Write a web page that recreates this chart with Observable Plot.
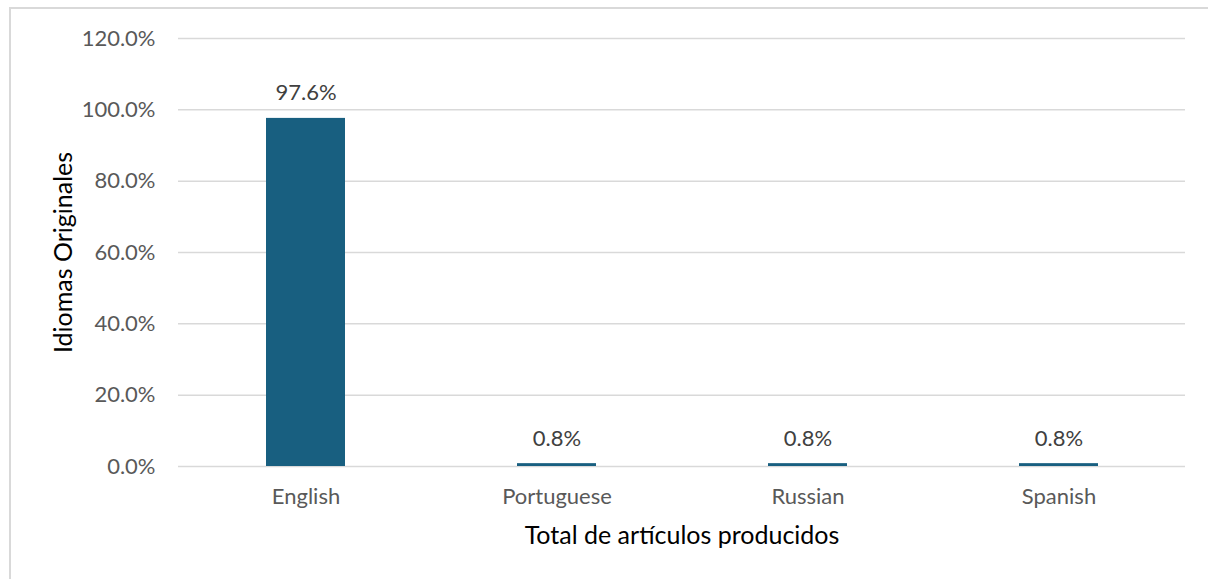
<!DOCTYPE html>
<html>
<head>
<meta charset="utf-8">
<script src="https://cdn.jsdelivr.net/npm/d3@7"></script>
<script src="https://cdn.jsdelivr.net/npm/@observablehq/plot@0.6"></script>
<style>
  html, body { margin: 0; padding: 0; background: #fff; overflow: hidden; }
  #wrap { position: relative; width: 1208px; height: 579px; overflow: hidden; }
  #frame { position: absolute; left: 9px; top: 7px; width: 1300px; height: 700px; border: 2px solid #d9d9d9; box-sizing: border-box; }
  #chart { position: absolute; left: 0; top: 0; }
</style>
</head>
<body>
<div id="wrap"><div id="frame"></div><div id="chart"></div></div>
<script>
const languages = ["English", "Portuguese", "Russian", "Spanish"];
const shares = [0.976, 0.008, 0.008, 0.008];
const shareLabels = ["97.6%", "0.8%", "0.8%", "0.8%"];
const yTicks = [0, 0.2, 0.4, 0.6, 0.8, 1.0, 1.2];
const xTitle = "Total de artículos producidos";
const yTitle = "Idiomas Originales";

const data = languages.map((lang, i) => ({lang, share: shares[i], label: shareLabels[i]}));
const font = "Lato, 'Open Sans', sans-serif";

const chart = Plot.plot({
  width: 1208,
  height: 579,
  marginLeft: 178,
  marginRight: 23,
  marginTop: 38,
  marginBottom: 113,
  style: {fontFamily: font, background: "transparent"},
  x: {domain: languages, paddingInner: 0.686, paddingOuter: 0.343, align: 0.5},
  y: {domain: [0, 1.2]},
  marks: [
    Plot.gridY(yTicks, {stroke: "#d9d9d9", strokeOpacity: 1, strokeWidth: 1.5}),
    Plot.barY(data, {x: "lang", y: "share", fill: "#185f80"}),
    Plot.axisY(yTicks, {tickSize: 0, tickPadding: 23, tickFormat: d3.format(".1%"), fontSize: 22, fill: "#595959", label: null}),
    Plot.axisX({tickSize: 0, tickPadding: 22, fontSize: 22, fill: "#595959", label: null}),
    Plot.text(data, {x: "lang", y: "share", text: "label", dy: -25, fontSize: 22, fill: "#404040"}),
    Plot.text([xTitle], {frameAnchor: "bottom", lineAnchor: "middle", textAnchor: "middle", dy: 69, fontSize: 25, fill: "#000"}),
    Plot.text([yTitle], {frameAnchor: "left", lineAnchor: "middle", textAnchor: "middle", rotate: -90, dx: -115, dy: 0, fontSize: 25, fill: "#000"})
  ]
});
document.getElementById("chart").appendChild(chart);
</script>
</body>
</html>
